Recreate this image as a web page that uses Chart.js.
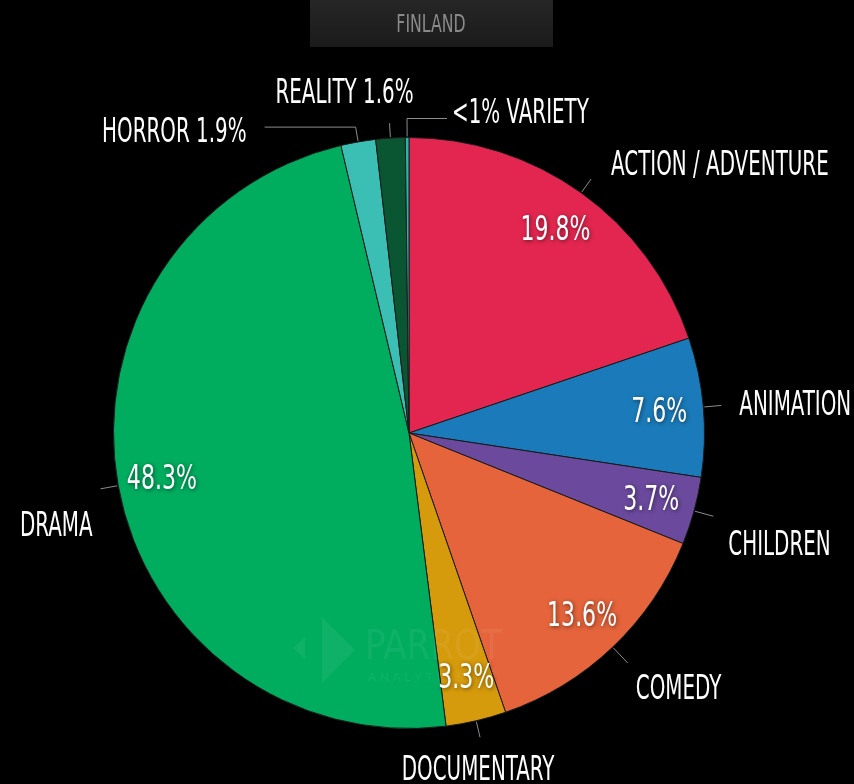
<!DOCTYPE html>
<html>
<head>
<meta charset="utf-8">
<title>Finland</title>
<script src="https://cdn.jsdelivr.net/npm/chart.js@4/dist/chart.umd.min.js"></script>
<style>
  html, body { margin: 0; padding: 0; background: #000; }
  #wrap { width: 854px; height: 784px; position: relative; }
</style>
</head>
<body>
<div id="wrap"><canvas id="genreChart" width="854" height="784"></canvas></div>
<script>
// genre share of demand, Finland
var categories = ["ACTION / ADVENTURE", "ANIMATION", "CHILDREN", "COMEDY", "DOCUMENTARY", "DRAMA", "HORROR", "REALITY", "VARIETY"];
var shares = [19.8, 7.6, 3.7, 13.6, 3.3, 48.3, 1.9, 1.6, 0.2];
var colors = ["#E3264F", "#1B7BBA", "#6B4A9E", "#E5643B", "#D69B0C", "#00AD5F", "#3BBFB4", "#0B5632", "#2BB3B0"];
var chartTitle = "FINLAND";

// slices smaller than this get their percentage in the callout instead of inside
var INSIDE_MIN = 3;

// callout layout per slice: radial leader length, horizontal elbow, text offset from leader end
var callouts = [
  { len: 17, elbow: 0,   dx: 20,  dy: -13, align: "left" },
  { len: 18, elbow: 0,   dx: 18,  dy: 1,   align: "left" },
  { len: 20, elbow: 0,   dx: 15,  dy: 30,  align: "left" },
  { len: 22, elbow: 0,   dx: 8,   dy: 27,  align: "left" },
  { len: 17, elbow: 0,   dx: -2,  dy: 34,  align: "center" },
  { len: 18, elbow: 0,   dx: -8,  dy: 39,  align: "right" },
  { len: 15, elbow: -91, dx: -18, dy: 6,   align: "right" },
  { len: 15, elbow: 0,   dx: -45, dy: -29, align: "center" },
  { len: 19, elbow: 40,  dx: 5,   dy: -4,  align: "left" }
];

var FONT = "'DejaVu Sans Condensed', 'Liberation Sans Narrow', sans-serif";
var SQUEEZE = 0.67;

function pctText(v) {
  return v < 1 ? "<1%" : v.toFixed(1) + "%";
}

function squeezedText(ctx, text, x, y, align, sx) {
  ctx.save();
  ctx.translate(x, y);
  ctx.scale(sx, 1);
  ctx.textAlign = align;
  ctx.fillText(text, 0, 0);
  ctx.restore();
}

var labelPlugin = {
  id: "genreLabels",
  afterDatasetsDraw: function (chart) {
    var ctx = chart.ctx;
    var arcs = chart.getDatasetMeta(0).data;

    // title tab
    ctx.save();
    var g = ctx.createLinearGradient(0, 0, 0, 47);
    g.addColorStop(0, "#262626");
    g.addColorStop(1, "#1b1b1b");
    ctx.fillStyle = g;
    ctx.fillRect(310, 0, 243, 47);
    ctx.fillStyle = "#8a8a8a";
    ctx.font = "25px " + FONT;
    ctx.textBaseline = "middle";
    squeezedText(ctx, chartTitle, 431, 25, "center", 0.7);
    ctx.restore();

    // faint watermark
    ctx.save();
    ctx.fillStyle = "rgba(255,255,255,0.06)";
    ctx.beginPath();
    ctx.moveTo(305, 637); ctx.lineTo(293, 648); ctx.lineTo(305, 659); ctx.closePath();
    ctx.fill();
    ctx.beginPath();
    ctx.moveTo(322, 617); ctx.lineTo(355, 650); ctx.lineTo(322, 683); ctx.closePath();
    ctx.fill();
    ctx.font = "40px " + FONT;
    ctx.textBaseline = "middle";
    squeezedText(ctx, "PARROT", 365, 649, "left", 0.95);
    ctx.font = "11px " + FONT;
    squeezedText(ctx, "A N A L Y T I C S", 368, 678, "left", 1.2);
    ctx.restore();

    ctx.save();
    ctx.textBaseline = "middle";
    arcs.forEach(function (arc, i) {
      var p = arc.getProps(["x", "y", "startAngle", "endAngle", "outerRadius"], true);
      var mid = (p.startAngle + p.endAngle) / 2;
      var ux = Math.cos(mid), uy = Math.sin(mid);
      var R = p.outerRadius;
      var v = shares[i];

      // value inside the slice
      if (v >= INSIDE_MIN) {
        var r = R * 0.85;
        ctx.save();
        ctx.font = "34px " + FONT;
        ctx.fillStyle = "#fff";
        ctx.shadowColor = "rgba(0,0,0,0.55)";
        ctx.shadowBlur = 4;
        ctx.shadowOffsetX = 1;
        ctx.shadowOffsetY = 1;
        squeezedText(ctx, pctText(v), p.x + ux * r, p.y + uy * r + 2, "center", 0.72);
        ctx.restore();
      }

      // leader line + category label
      var c = callouts[i];
      var x0 = p.x + ux * (R + 1), y0 = p.y + uy * (R + 1);
      var x1 = p.x + ux * (R + c.len), y1 = p.y + uy * (R + c.len);
      var x2 = x1 + c.elbow;
      ctx.strokeStyle = "#8c8c8c";
      ctx.lineWidth = 1;
      ctx.beginPath();
      ctx.moveTo(x0, y0);
      ctx.lineTo(x1, y1);
      if (c.elbow) ctx.lineTo(x2, y1);
      ctx.stroke();

      var txt = categories[i];
      if (v < INSIDE_MIN) {
        txt = v < 1 ? pctText(v) + " " + txt : txt + " " + pctText(v);
      }
      ctx.font = "33px " + FONT;
      ctx.fillStyle = "#fff";
      squeezedText(ctx, txt, x2 + c.dx, y1 + c.dy, c.align, SQUEEZE);
    });
    ctx.restore();
  }
};

new Chart(document.getElementById("genreChart").getContext("2d"), {
  type: "pie",
  data: {
    labels: categories,
    datasets: [{
      data: shares,
      backgroundColor: colors,
      borderColor: "#1a1a1a",
      borderWidth: 1
    }]
  },
  options: {
    responsive: false,
    animation: false,
    layout: { padding: { left: 113, right: 149, top: 137, bottom: 55 } },
    plugins: {
      legend: { display: false },
      tooltip: { enabled: false }
    }
  },
  plugins: [labelPlugin]
});
</script>
</body>
</html>
